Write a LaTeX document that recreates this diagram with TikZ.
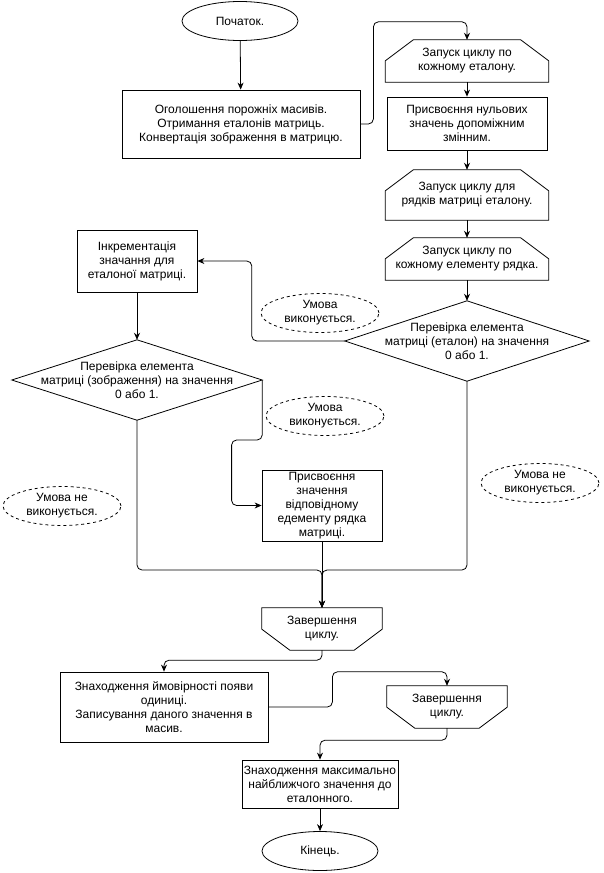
\documentclass[tikz,border=0pt]{standalone}
\usepackage{fontspec}
\setmainfont{Liberation Sans}
\usetikzlibrary{arrows,arrows.meta}
\usetikzlibrary{calc,shapes,shapes.geometric}
\tikzset{>={Stealth[length=7pt,width=6pt]}}
\tikzstyle{block} = [%
					rectangle, draw,
					line width = 0.8,
					align = center,
					inner sep = 2pt]
\tikzstyle{plain} = [%
					rectangle,
					align = center,
					inner sep = 0pt]
\tikzstyle{term} = [%
					ellipse, draw,
					line width = 0.8,
					minimum width = 116pt,
					minimum height = 39pt]
\tikzstyle{cond} = [%
					ellipse, draw, dashed,
					line width = 0.8,
					align = center,
					inner xsep = -10pt, inner ysep = -2pt,
					minimum width = 118pt,
					minimum height = 39pt]
\tikzstyle{flow} = [%
					->,
					line width = 0.8,
					rounded corners = 5pt]
\tikzstyle{outline} = [line width = 0.8]
% Shapes of the loop limits and decisions
\newcommand{\loopstart}[1]{\draw[outline] ([xshift=28pt]#1.north west) -- ([xshift=-28pt]#1.north east) -- ([yshift=-21pt]#1.north east) -- (#1.south east) -- (#1.south west) -- ([yshift=-21pt]#1.north west) -- cycle;}
\newcommand{\loopend}[1]{\draw[outline] (#1.north west) -- (#1.north east) -- ([yshift=21pt]#1.south east) -- ([xshift=-28pt]#1.south east) -- ([xshift=28pt]#1.south west) -- ([yshift=21pt]#1.south west) -- cycle;}
\newcommand{\decision}[1]{\draw[outline] (#1.north) -- (#1.east) -- (#1.south) -- (#1.west) -- cycle;}

\begin{document}
\begin{tikzpicture}[x=1pt, y=-1pt, font=\fontsize{12}{14}\selectfont]
	\useasboundingbox (0,0) rectangle (603,873);

	% Nodes
	%% Start
	\node[term] (start) at (240,21) {Початок.};
	\node[block, minimum width=238pt, minimum height=68pt] (decl) at (241,124) {Оголошення порожніх масивів.\\Отримання еталонів матриць.\\Конвертація зображення в матрицю.};
	%% Loops over the standards
	\node[plain, minimum width=163pt, minimum height=42pt] (loop1) at (467,61) {Запуск циклу по\\кожному еталону.};
	\node[block, minimum width=160pt, minimum height=53pt] (zero) at (467,123.5) {Присвоєння нульових\\значень допоміжним\\змінним.};
	\node[plain, minimum width=163pt, minimum height=50pt] (loop2) at (467,195) {Запуск циклу для\\рядків матриці еталону.};
	\node[plain, minimum width=163pt, minimum height=42pt] (loop3) at (467,259) {Запуск циклу по\\кожному елементу рядка.};
	%% Checks
	\node[plain, minimum width=244pt, minimum height=80pt] (check1) at (467,341) {Перевірка елемента\\матриці (еталон) на значення\\0 або 1.};
	\node[block, minimum width=120pt, minimum height=62pt] (incr) at (137,261) {Інкрементація\\значання для\\еталоної матриці.};
	\node[plain, minimum width=250pt, minimum height=80pt] (check2) at (137,380) {Перевірка елемента\\матриці (зображення) на значення\\0 або 1.};
	\node[block, minimum width=120pt, minimum height=71pt, inner sep=0pt] (assign) at (322,505.5) {Присвоєння\\значення\\відповідному\\едементу рядка\\матриці.};
	%% Conditions
	\node[cond] (yes1) at (320,313) {Умова\\виконується.};
	\node[cond] (yes2) at (325,416) {Умова\\виконується.};
	\node[cond] (no2) at (62,506) {Умова не\\виконується.};
	\node[cond] (no1) at (540,483) {Умова не\\виконується.};
	%% End of loops
	\node[plain, minimum width=120pt, minimum height=42pt] (end1) at (322,629) {Завершення\\циклу.};
	\node[block, minimum width=208pt, minimum height=70pt] (prob) at (164,707) {Знаходження ймовірності появи\\одиниці.\\Записування даного значення в\\масив.};
	\node[plain, minimum width=120pt, minimum height=42pt] (end2) at (447,707) {Завершення\\циклу.};
	\node[block, minimum width=144pt, minimum height=48pt] (best) at (320,784) {Знаходження максимально\\найближчого значення до\\еталонного.};
	\node[term] (stop) at (320,851) {Кінець.};

	% Outlines
	\loopstart{loop1}
	\loopstart{loop2}
	\loopstart{loop3}
	\decision{check1}
	\decision{check2}
	\loopend{end1}
	\loopend{end2}

	% Coordinates
	\coordinate (join) at (322,570);

	% Connectors
	\draw[flow] (start) -- (decl);
	\draw[flow] (decl.east) -- ++(13,0) |- ([yshift=18pt]loop1.north) -- (loop1.north);
	\draw[flow] (loop1) -- (zero);
	\draw[flow] (zero) -- (loop2);
	\draw[flow] (loop2) -- (loop3);
	\draw[flow] (loop3) -- (check1.north);
	\draw[flow] (check1.west) -- ++(-93,0) |- (incr.east);
	\draw[flow] (incr) -- (check2.north);
	\draw[flow] (check2.east) -- ++(0,60) -| ([xshift=-30pt]assign.west) -- (assign.west);
	\draw[flow] (check2.south) |- (join) -- (end1.north);
	\draw[flow] (check1.south) |- (join) -- (end1.north);
	\draw[flow] (assign) -- (end1.north);
	\draw[flow] (end1.south) -- ++(0,10) -| (prob.north);
	\draw[flow] (prob.east) -- ++(64,0) |- ([yshift=14pt]end2.north) -- (end2.north);
	\draw[flow] (end2.south) -- ++(0,12) -| (best.north);
	\draw[flow] (best) -- (stop);
\end{tikzpicture}
\end{document}
